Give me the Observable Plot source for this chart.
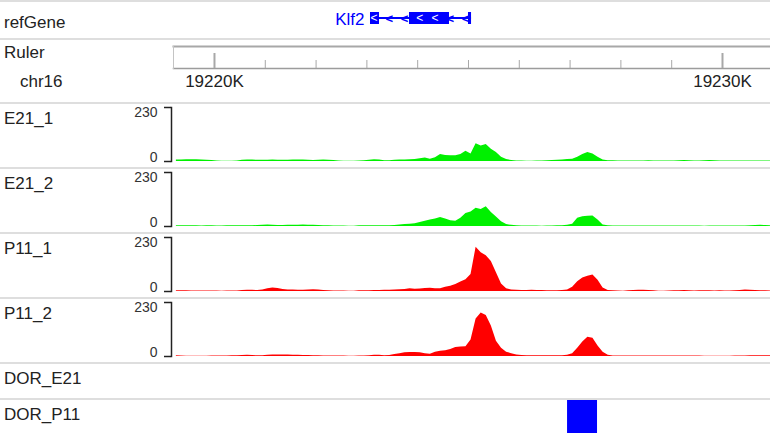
<!DOCTYPE html>
<html><head><meta charset="utf-8">
<script src="https://cdn.jsdelivr.net/npm/d3@7"></script>
<script src="https://cdn.jsdelivr.net/npm/@observablehq/plot@0.6"></script>
<style>
html,body{margin:0;padding:0;background:#fff;}
#chart{position:relative;width:770px;height:433px;overflow:hidden;background:#fff;font-family:"Liberation Sans",Arial,sans-serif;}
#chart svg{position:absolute;left:0;}
.sep{position:absolute;left:0;width:770px;height:2px;background:#dedede;}
</style></head><body><div id="chart"></div>
<script>
// ---- genomic window (chr16, kb) ----
const viewStart = 19219.213;
const viewEnd = 19230.945;

// ---- gene (refGene) ----
const geneName = "Klf2";
const geneStart = 19223.071;
const geneEnd = 19225.06;
const exonStarts = [19223.071, 19223.839, 19225.0];
const exonEnds = [19223.248, 19224.626, 19225.06];

// ---- ruler ----
const rulerTicks = [19220, 19221, 19222, 19223, 19224, 19225, 19226, 19227, 19228, 19229, 19230];
const majorTicks = [19220, 19230];
const majorLabels = ["19220K", "19230K"];

// ---- coverage bins ----
const binStart = 19219.2;
const binSize = 0.1;
const yTicks = [0, 230];
const trackNames = ["E21_1", "E21_2", "P11_1", "P11_2"];
const e21_1 = [6,6,7,7,7,6,5,4,2,1,
 1,1,2,5,6,6,5,5,5,6,
 5,5,5,6,6,6,5,4,5,6,
 5,4,2,1,1,1,2,3,5,7,
 6,3,3,5,6,6,7,8,12,15,
 10,16,30,26,24,24,30,44,32,76,
 66,72,52,38,18,8,4,2,2,1,
 1,2,2,3,4,5,6,8,10,18,
 30,38,32,18,6,3,3,2,2,2,
 2,2,2,3,2,2,2,2,2,3,
 4,3,2,2,3,4,3,2,2,2,
 2,2,2,2,2,2,2,2];
const e21_2 = [3,3,3,3,3,2,3,3,2,2,
 3,3,3,3,3,3,4,5,6,5,
 4,4,5,5,5,6,5,5,4,3,
 3,2,2,2,1,1,3,3,3,3,
 3,3,3,4,6,9,10,12,17,22,
 28,32,38,32,25,22,35,55,62,78,
 72,84,60,40,20,8,5,3,2,2,
 2,2,1,2,2,3,3,5,10,35,
 42,44,45,28,6,3,2,2,2,2,
 2,2,2,2,2,2,2,2,2,2,
 2,2,2,2,1,2,2,2,2,2,
 2,2,2,3,4,5,4,3];
const p11_1 = [3,3,3,2,2,2,2,2,2,1,
 2,2,2,4,5,5,4,6,12,15,
 13,8,6,6,5,5,6,7,6,4,
 3,2,2,2,1,1,3,3,3,4,
 4,5,5,6,7,9,12,10,11,13,
 14,12,12,18,22,30,40,50,72,188,
 165,152,128,80,32,12,6,5,4,4,
 5,4,4,3,3,3,4,6,18,42,
 57,65,70,48,15,4,3,2,1,3,
 4,5,5,4,3,1,1,2,3,3,
 4,3,2,3,3,3,2,3,2,2,
 3,4,6,5,4,3,3,2];
const p11_2 = [3,2,1,1,1,1,1,2,2,2,
 2,3,3,4,5,4,3,3,5,6,
 6,6,6,5,5,4,4,3,3,2,
 2,2,2,2,1,1,2,2,3,5,
 5,3,4,8,12,16,17,17,16,12,
 10,18,22,24,30,38,40,42,70,160,
 185,175,130,65,35,18,12,6,4,3,
 3,3,3,3,3,3,3,5,12,35,
 62,82,78,45,18,5,2,2,2,2,
 2,2,2,2,2,2,2,2,2,2,
 2,2,2,2,1,1,1,1,1,1,
 2,2,2,3,3,3,3,3];
const trackColors = ["#00f000", "#00f000", "#ff0000", "#ff0000"];

// ---- DOR regions ----
const dorE21Starts = [];
const dorE21Ends = [];
const dorP11Starts = [19226.95];
const dorP11Ends = [19227.54];

// =====================================================
const chart = document.getElementById("chart");
const font = '"Liberation Sans", Arial, sans-serif';
const xScale = {domain: [viewStart, viewEnd], range: [174, 770], axis: null};
const baseStyle = {background: "transparent", fontFamily: font, overflow: "visible"};

function place(svg, top) {
  svg.style.top = top + "px";
  chart.appendChild(svg);
}

// separators
[0, 37.5, 102, 166.5, 232, 297, 361.5, 397.5].forEach(t => {
  const d = document.createElement("div");
  d.className = "sep"; d.style.top = t + "px";
  chart.appendChild(d);
});

// gene track
const geneRow = [{name: geneName, start: geneStart, end: geneEnd}];
const exons = exonStarts.map((s, i) => ({start: s, end: exonEnds[i]}));
const inExon = p => exons.some(e => p > e.start && p < e.end);
const arrows = d3.range(geneStart + 0.07, geneEnd - 0.05, 0.3).map(p => ({pos: p, exon: inExon(p)}));
place(Plot.plot({
  width: 770, height: 35, marginTop: 10, marginBottom: 13, marginLeft: 0, marginRight: 0,
  style: baseStyle,
  x: xScale,
  y: {domain: [geneName], padding: 0, axis: null},
  marks: [
    Plot.barX(geneRow, {x1: "start", x2: "end", y: "name", fill: "#0000ff", insetTop: 5, insetBottom: 5}),
    Plot.barX(exons, {x1: "start", x2: "end", y: () => geneName, fill: "#0000ff"}),
    Plot.text(arrows.filter(a => !a.exon), {x: "pos", y: () => geneName, text: () => "<", fill: "#0000ff", fontSize: 13, fontWeight: "bold"}),
    Plot.text(arrows.filter(a => a.exon), {x: "pos", y: () => geneName, text: () => "<", fill: "#ffffff", fontSize: 12}),
    Plot.text(geneRow, {x: "start", y: "name", text: "name", textAnchor: "end", dx: -6, dy: 1, fill: "#0000ff", fontSize: 17})
  ]
}), 2);

// ruler track
const majors = majorTicks.map((p, i) => ({pos: p, label: majorLabels[i]}));
const minors = rulerTicks.filter(t => !majorTicks.includes(t));
place(Plot.plot({
  width: 770, height: 64, marginTop: 7, marginBottom: 35, marginLeft: 173, marginRight: 0,
  style: baseStyle,
  x: xScale,
  marks: [
    Plot.frame({anchor: "top", stroke: "#a8a8a8", strokeWidth: 2}),
    Plot.frame({anchor: "bottom", stroke: "#9c9c9c", strokeWidth: 1.5}),
    Plot.frame({anchor: "left", stroke: "#c4c4c4", strokeWidth: 1}),
    Plot.ruleX(minors, {x: d => d, insetTop: 14, stroke: "#a8a8a8", strokeWidth: 1}),
    Plot.ruleX(majors, {x: "pos", insetTop: 7, stroke: "#a8a8a8", strokeWidth: 2}),
    Plot.text(majors, {x: "pos", text: "label", frameAnchor: "bottom", lineAnchor: "middle", dy: 13, fontSize: 17, fill: "#222"})
  ]
}), 39);

// coverage tracks
const seps = [102, 166.5, 232, 297];
[e21_1, e21_2, p11_1, p11_2].forEach((vals, k) => {
  const rows = vals.map((v, i) => ({pos: binStart + binSize * (i + 0.5), value: v}));
  place(Plot.plot({
    width: 770, height: 64, marginTop: 3, marginBottom: 7, marginLeft: 171, marginRight: 0,
    style: baseStyle,
    x: xScale,
    y: {domain: [0, yTicks[1]]},
    marks: [
      Plot.areaY(rows, {x: "pos", y: "value", fill: trackColors[k], curve: "linear"}),
      Plot.axisY(yTicks, {anchor: "left", tickSize: 7, tickFormat: () => "", label: null, stroke: "#222", strokeWidth: 1.5}),
      Plot.frame({anchor: "left", stroke: "#222", strokeWidth: 1.5}),
      Plot.text([yTicks[1]], {y: d => d, text: d => String(d), frameAnchor: "left", dx: -14, textAnchor: "end", lineAnchor: "top", fontSize: 14, fill: "#333"}),
      Plot.text([yTicks[0]], {y: d => d, text: d => String(d), frameAnchor: "left", dx: -14, textAnchor: "end", lineAnchor: "bottom", fontSize: 14, fill: "#333"})
    ]
  }), seps[k] + 2);
});

// DOR tracks
function dorTrack(starts, ends, top) {
  const rows = starts.map((s, i) => ({start: s, end: ends[i]}));
  place(Plot.plot({
    width: 770, height: 34, marginTop: 0, marginBottom: 0, marginLeft: 0, marginRight: 0,
    style: baseStyle,
    x: xScale,
    marks: [Plot.rect(rows, {x1: "start", x2: "end", fill: "#0000ff"})]
  }), top);
}
dorTrack(dorE21Starts, dorE21Ends, 363.5);
dorTrack(dorP11Starts, dorP11Ends, 399.5);

// track labels
const labels = [
  {t: "refGene", x: 4, y: 28},
  {t: "Ruler", x: 4, y: 58},
  {t: "chr16", x: 20, y: 87},
  {t: trackNames[0], x: 4, y: 123.5},
  {t: trackNames[1], x: 4, y: 188.5},
  {t: trackNames[2], x: 4, y: 253.5},
  {t: trackNames[3], x: 4, y: 318.5},
  {t: "DOR_E21", x: 4, y: 384},
  {t: "DOR_P11", x: 4, y: 419.5}
];
const ov = d3.create("svg").attr("width", 770).attr("height", 433).style("top", "0px").style("pointer-events", "none");
ov.selectAll("text").data(labels).join("text")
  .attr("x", d => d.x).attr("y", d => d.y).text(d => d.t)
  .attr("font-family", font).attr("font-size", 17).attr("fill", "#222");
chart.appendChild(ov.node());
</script></body></html>
